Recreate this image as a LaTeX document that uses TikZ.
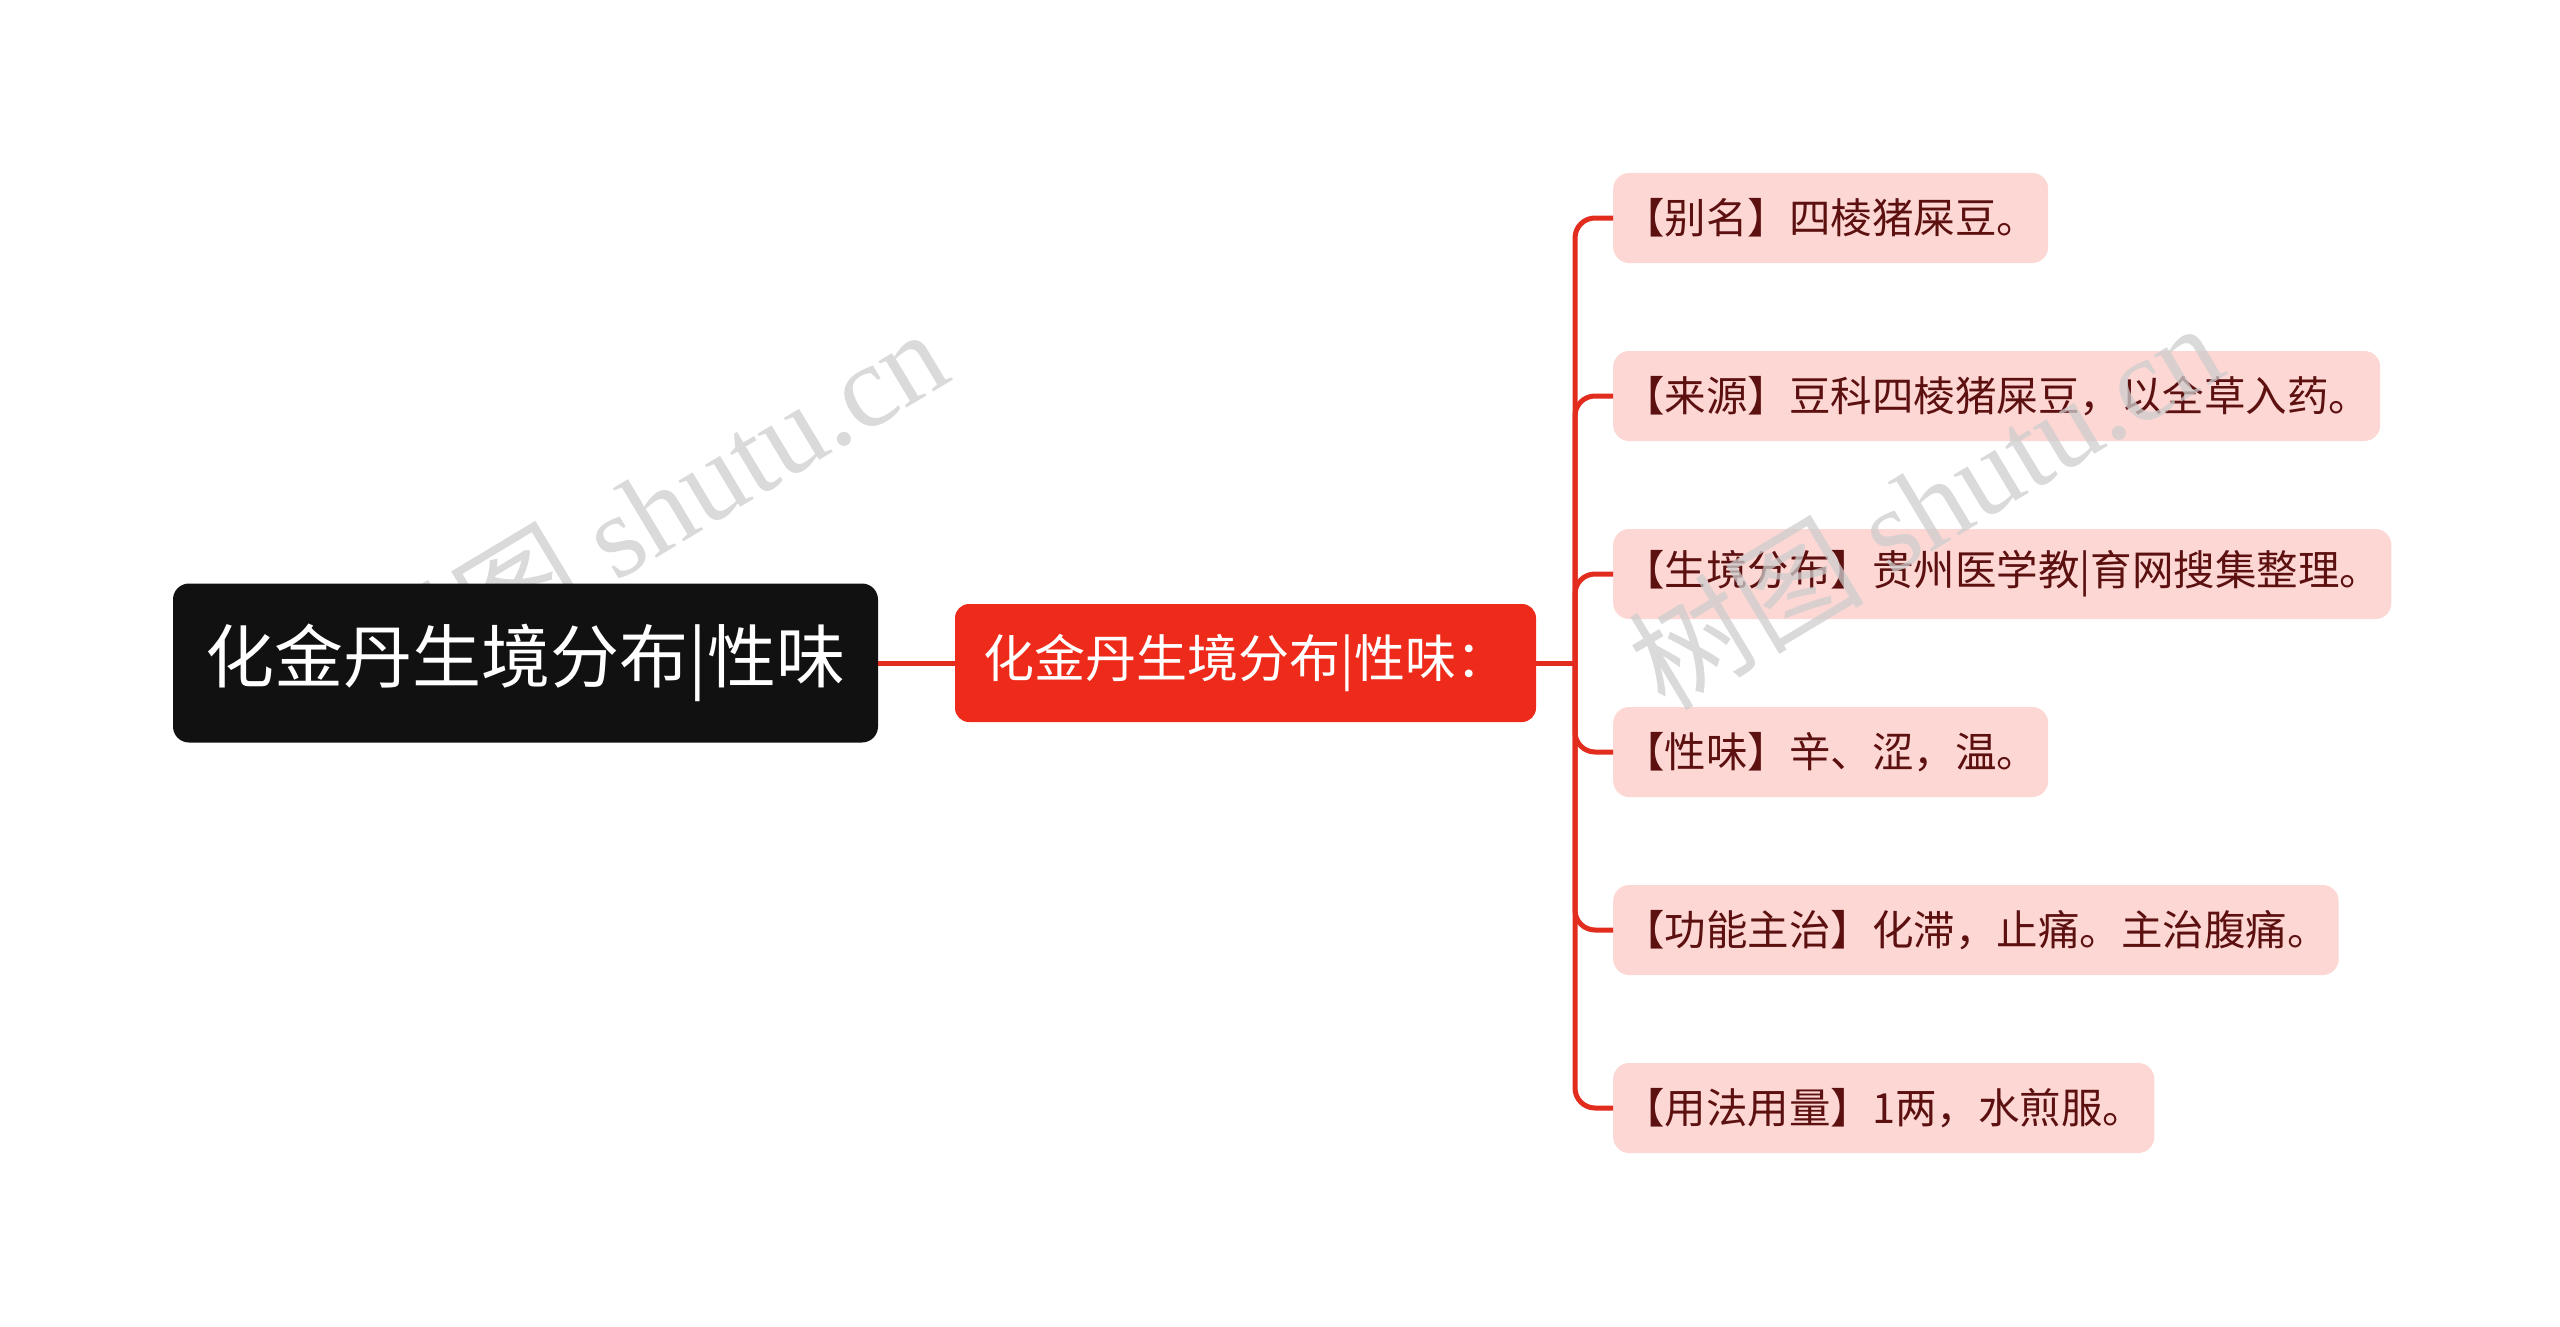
\documentclass[tikz,border=0pt]{standalone}
\usepackage{fontspec}
\setmainfont{Noto Sans CJK SC}
\newfontfamily\wmfont{Liberation Serif}
\usetikzlibrary{positioning,backgrounds}
\definecolor{rootblack}{RGB}{17,17,17}
\definecolor{midred}{RGB}{238,43,27}
\definecolor{leafpink}{RGB}{252,215,212}
\definecolor{leaftext}{RGB}{92,16,16}
\definecolor{linkred}{RGB}{226,44,30}
\definecolor{markgray}{RGB}{205,205,205}

\begin{document}
\begin{tikzpicture}[x=1pt,y=-1pt,
    rootbox/.style={fill=rootblack,text=white,rounded corners=16pt,minimum width=705pt,minimum height=159pt,font=\fontsize{69}{80}\selectfont},
    midbox/.style={fill=midred,text=white,rounded corners=14pt,minimum width=581pt,minimum height=118pt,font=\fontsize{51}{60}\selectfont},
    leafbox/.style={fill=leafpink,text=leaftext,rounded corners=16pt,anchor=west,inner xsep=10pt,minimum height=90pt,font=\fontsize{41.5}{50}\selectfont},
    link/.style={draw=linkred,line width=5pt},
    wmark/.style={text=markgray,rotate=31,text opacity=0.75,font=\fontsize{118}{130}\selectfont}]
        \useasboundingbox (0,0) rectangle (2560,1327);
        % watermark behind the main box
        \node[wmark] (wm1) at (650,510) {树图 {\wmfont shutu.cn}};
        % main topic and subtopic
        \node[rootbox] (root) at (525.5,663) {化金丹生境分布|性味};
        \node[midbox] (mid) at (1245.5,663) {化金丹生境分布|性味：};
        \coordinate (fork) at (1575,663);
        \draw[link] (root.east) -- (mid.west);
        \draw[link] (mid.east) -- (fork);
        % details
        \foreach \y/\t [count=\i] in {218/{【别名】四棱猪屎豆。},
            396/{【来源】豆科四棱猪屎豆，以全草入药。},
            574/{【生境分布】贵州医学教|育网搜集整理。},
            752/{【性味】辛、涩，温。},
            930/{【功能主治】化滞，止痛。主治腹痛。},
            1108/{【用法用量】1两，水煎服。}} {
          \node[leafbox] (l\i) at (1613,\y) {\t};
          \draw[link,rounded corners=20pt] (fork) |- (l\i.west);
        }
        % watermark over the details
        \node[wmark] (wm2) at (1925,504) {树图 {\wmfont shutu.cn}};
      \end{tikzpicture}
\end{document}
